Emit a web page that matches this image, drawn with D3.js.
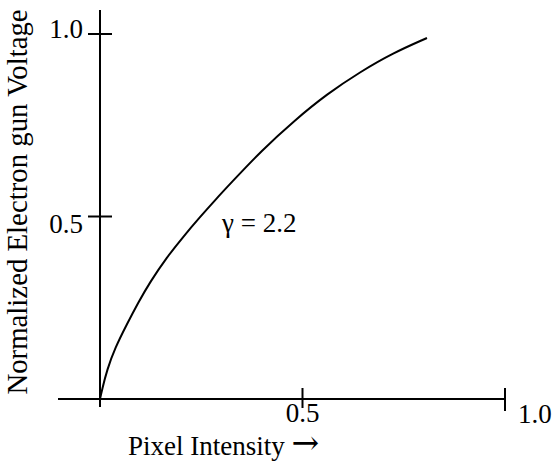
<!DOCTYPE html>
<html>
<head>
<meta charset="utf-8">
<script src="https://cdn.jsdelivr.net/npm/d3@7"></script>
<style>
  html, body { margin: 0; padding: 0; background: #fff; }
  svg { display: block; }
</style>
</head>
<body>
<svg id="chart" width="552" height="463"></svg>
<script>
// Gamma response: pixel intensity vs. normalized electron gun voltage
const intensity = [0, 0.0049, 0.0173, 0.0370, 0.0667, 0.0938, 0.1235, 0.1654, 0.2049,
                   0.2469, 0.2889, 0.3210, 0.4000, 0.4815, 0.5605, 0.6420, 0.7235, 0.8074];
const voltage   = [0, 0.0247, 0.0795, 0.1397, 0.2055, 0.2630, 0.3205, 0.3890, 0.4438,
                   0.4986, 0.5507, 0.5890, 0.6822, 0.7644, 0.8356, 0.8959, 0.9479, 0.9890];
const xTicks = [0.5, 1.0];
const yTicks = [0.5, 1.0];
const xTickLabels = ["0.5", "1.0"];
const yTickLabels = ["0.5", "1.0"];
const gammaLabel = "\u03b3 = 2.2";
const xTitle = "Pixel Intensity";
const xArrow = "\u2192";
const yTitle = "Normalized Electron gun Voltage";

const FONT = "'Liberation Serif', 'Times New Roman', Times, serif";

const svg = d3.select("#chart");
const x = d3.scaleLinear().domain([0, 1]).range([100, 505]);
const y = d3.scaleLinear().domain([0, 1]).range([399, 34]);

function label(px, py, str, size, anchor, rot = 0) {
  return svg.append("text")
    .attr("transform", `translate(${px},${py}) rotate(${rot})`)
    .attr("font-family", FONT)
    .attr("font-size", size)
    .attr("fill", "#000")
    .attr("text-anchor", anchor)
    .text(str);
}

// axes
const axisG = svg.append("g").attr("stroke", "#000").attr("stroke-width", 2);
axisG.append("line").attr("x1", 58).attr("x2", x(1)).attr("y1", y(0)).attr("y2", y(0));
axisG.append("line").attr("x1", x(0)).attr("x2", x(0)).attr("y1", 10).attr("y2", 407);

// ticks crossing the axes
axisG.selectAll(".xt").data(xTicks).join("line")
  .attr("x1", d => x(d)).attr("x2", d => x(d))
  .attr("y1", y(0) - 11).attr("y2", (d, i) => y(0) + (i === 0 ? 9 : 12));
axisG.selectAll(".yt").data(yTicks).join("line")
  .attr("y1", d => y(d)).attr("y2", d => y(d))
  .attr("x1", x(0) - 12).attr("x2", x(0) + 12);

// tick labels
label(x(xTicks[0]), 422, xTickLabels[0], 27, "middle");
label(x(xTicks[1]) + 13, 423, xTickLabels[1], 27, "start");
label(83, y(yTicks[0]) + 16, yTickLabels[0], 27, "end");
label(83, y(yTicks[1]) + 4, yTickLabels[1], 27, "end");

// curve
const pts = intensity.map((v, i) => [v, voltage[i]]);
svg.append("path")
  .datum(pts)
  .attr("fill", "none")
  .attr("stroke", "#000")
  .attr("stroke-width", 2)
  .attr("d", d3.line().x(d => x(d[0])).y(d => y(d[1])).curve(d3.curveBasis));

// annotations and titles
label(222, 232, gammaLabel, 27, "start");
const xt = label(128, 455, xTitle + " ", 27, "start");
xt.append("tspan")
  .attr("font-family", "'DejaVu Serif', serif")
  .attr("font-size", 33)
  .attr("dy", -1)
  .text(xArrow);
label(27, 202, yTitle, 28.8, "middle", -90);
</script>
</body>
</html>
